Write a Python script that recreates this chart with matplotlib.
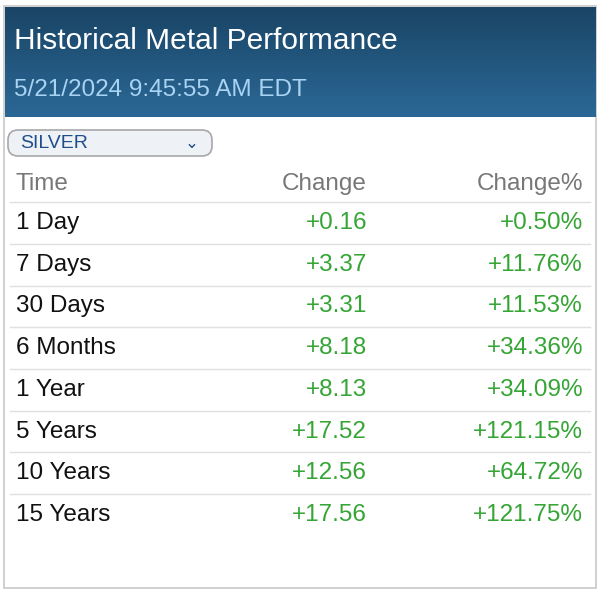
import matplotlib
matplotlib.use("Agg")
import matplotlib.pyplot as plt
import numpy as np
from matplotlib.patches import Rectangle, FancyBboxPatch
from matplotlib.colors import LinearSegmentedColormap

title = "Historical Metal Performance"
timestamp = "5/21/2024 9:45:55 AM EDT"
metal = "SILVER"
columns = ["Time", "Change", "Change%"]
periods = ["1 Day", "7 Days", "30 Days", "6 Months", "1 Year", "5 Years", "10 Years", "15 Years"]
changes = ["+0.16", "+3.37", "+3.31", "+8.18", "+8.13", "+17.52", "+12.56", "+17.56"]
change_pct = ["+0.50%", "+11.76%", "+11.53%", "+34.36%", "+34.09%", "+121.15%", "+64.72%", "+121.75%"]

plt.rcParams['font.family'] = ['Liberation Sans', 'DejaVu Sans']
fig = plt.figure(figsize=(6, 5.92), dpi=100)
ax = fig.add_axes([0, 0, 1, 1])
ax.axis('off')

ax.add_patch(Rectangle((4, 6), 592, 582, fill=False, ec="#c8c8c8", lw=1.2))
grad = np.linspace(0, 1, 100).reshape(-1, 1)
cmap = LinearSegmentedColormap.from_list("h", ["#1a4566", "#2b6896"])
ax.imshow(grad, extent=(5, 596, 117, 7), cmap=cmap, aspect='auto', zorder=1)
ax.set_xlim(0, 600); ax.set_ylim(592, 0)
ax.text(14, 41, title, color="white", fontsize=21.5, va="center", zorder=2)
ax.text(14, 90, timestamp, color="#a9d3f3", fontsize=17.5, va="center", zorder=2)

ax.add_patch(FancyBboxPatch((8, 130), 204, 26, boxstyle="round,pad=0,rounding_size=10",
                            fc="#eef2f6", ec="#a8a8a8", lw=1.2))
ax.text(20, 143, metal, color="#1f4e8c", fontsize=14, va="center")
ax.text(192, 144, "⌄", color="#1f4e8c", fontsize=12, va="center", ha="center")

fs = 17.5
ax.text(16, 184, columns[0], color="#777777", fontsize=fs, va="center")
ax.text(367, 184, columns[1], color="#777777", fontsize=fs, va="center", ha="right")
ax.text(583, 184, columns[2], color="#777777", fontsize=fs, va="center", ha="right")

green = "#35a535"
y0, dy = 223, 41.7
for i, (p, c, pc) in enumerate(zip(periods, changes, change_pct)):
    y = y0 + i * dy
    ax.text(16, y, p, color="#111111", fontsize=fs, va="center")
    ax.text(367, y, c, color=green, fontsize=fs, va="center", ha="right")
    ax.text(583, y, pc, color=green, fontsize=fs, va="center", ha="right")
    ax.plot([10, 590], [y - dy / 2, y - dy / 2], color="#e0e0e0", lw=1)

fig.savefig("out.png", dpi=100)
